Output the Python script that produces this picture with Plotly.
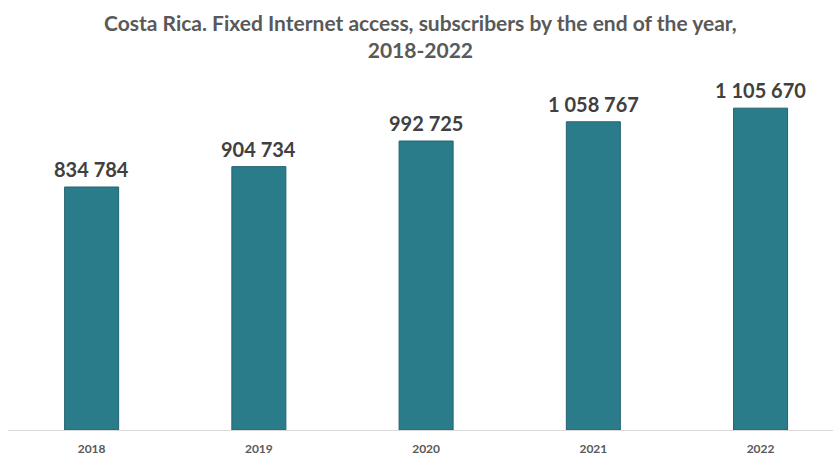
import plotly.graph_objects as go

years = ["2018", "2019", "2020", "2021", "2022"]
subscribers = [834784, 904734, 992725, 1058767, 1105670]

labels = [f"{v:,}".replace(",", " ") for v in subscribers]

fig = go.Figure(go.Bar(
    x=years, y=subscribers,
    width=0.323,
    marker=dict(color="#2a7c8b", line=dict(color="#22636f", width=1)),
))

for i, (v, t) in enumerate(zip(subscribers, labels)):
    fig.add_annotation(x=i, y=v, text=t, showarrow=False, xanchor="center",
                       yanchor="bottom", yshift=4,
                       font=dict(family="Lato", size=20, color="#404040", weight="bold"))

fig.add_annotation(
    xref="paper", yref="paper", x=0.5, y=1 + 72 / 350, xanchor="center", yanchor="top",
    text="Costa Rica. Fixed Internet access, subscribers by the end of the year,<br>2018-2022",
    showarrow=False, align="center",
    font=dict(family="Lato", size=21, color="#595959", weight="bold"),
)

fig.update_layout(
    width=833, height=457,
    margin=dict(l=8, r=0, t=80, b=27),
    paper_bgcolor="white", plot_bgcolor="white",
    showlegend=False,
    xaxis=dict(type="category", range=[-0.5, 4.433], showgrid=False,
               showline=True, linecolor="#d9d9d9", linewidth=1,
               ticks="outside", ticklen=8, tickcolor="rgba(0,0,0,0)",
               tickfont=dict(family="Lato", size=12, color="#595959", weight="bold")),
    yaxis=dict(range=[0, 1202365], visible=False, showgrid=False),
)

fig.write_html("out.html")
